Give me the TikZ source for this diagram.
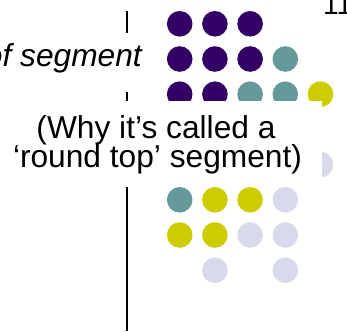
\documentclass[tikz,border=0pt]{standalone}
\usepackage{fontspec}
\setmainfont{Liberation Sans}
\definecolor{purp}{HTML}{330066}
\definecolor{tealc}{HTML}{669999}
\definecolor{yelc}{HTML}{CCCC00}
\definecolor{lavc}{HTML}{D9D9EC}
\tikzset{
  dot/.style={circle, inner sep=0pt, minimum size=25.6pt, draw=none},
  cover/.style={rectangle, fill=white, draw=none, inner sep=0pt, anchor=north west},
  bigtext/.style={anchor=base, inner sep=0pt, font=\fontsize{31.7}{31.7}\selectfont},
  vline/.style={line width=2pt, black},
}
\begin{document}
\begin{tikzpicture}[x=1pt, y=-1pt]
\useasboundingbox (0,0) rectangle (347,331);
% vertical line
\coordinate (ltop) at (127,11.5);
\coordinate (lbot) at (127,331);
\draw[vline] (ltop) -- (lbot);
% dots
\node[dot, fill=purp] (a1) at (179.7,23.8) {};
\node[dot, fill=purp] (a2) at (214.9,23.8) {};
\node[dot, fill=purp] (a3) at (250.1,23.8) {};
\node[dot, fill=purp] (b1) at (179.7,59.0) {};
\node[dot, fill=purp] (b2) at (214.9,59.0) {};
\node[dot, fill=purp] (b3) at (250.1,59.0) {};
\node[dot, fill=tealc] (b4) at (285.3,59.0) {};
\node[dot, fill=purp] (c1) at (179.7,94.2) {};
\node[dot, fill=purp] (c2) at (214.9,94.2) {};
\node[dot, fill=tealc] (c3) at (250.1,94.2) {};
\node[dot, fill=tealc] (c4) at (285.3,94.2) {};
\node[dot, fill=yelc] (c5) at (320.5,94.2) {};
\node[dot, fill=lavc] (e5) at (320.5,164.6) {};
\node[dot, fill=tealc] (f1) at (179.7,199.8) {};
\node[dot, fill=yelc] (f2) at (214.9,199.8) {};
\node[dot, fill=yelc] (f3) at (250.1,199.8) {};
\node[dot, fill=lavc] (f4) at (285.3,199.8) {};
\node[dot, fill=yelc] (g1) at (179.7,235.0) {};
\node[dot, fill=yelc] (g2) at (214.9,235.0) {};
\node[dot, fill=lavc] (g3) at (250.1,235.0) {};
\node[dot, fill=lavc] (g4) at (285.3,235.0) {};
\node[dot, fill=lavc] (h2) at (214.9,270.2) {};
\node[dot, fill=lavc] (h4) at (285.3,270.2) {};
% cover boxes
\node[cover, minimum width=150pt, minimum height=59pt] (boxa) at (0,33.3) {};
\node[cover, minimum width=321.3pt, minimum height=86pt] (boxb) at (0,101) {};
% texts
\node[bigtext, anchor=base east, font=\itshape\fontsize{31.7}{31.7}\selectfont] (seg) at (142,66.7) {of segment};
\node[bigtext] (t1) at (156,138.3) {(Why it’s called a};
\node[bigtext] (t2) at (157.5,167.5) {‘round top’ segment)};
\node[anchor=base west, inner sep=0pt, font=\fontsize{28}{28}\selectfont] (num) at (323,15) {11};
\end{tikzpicture}
\end{document}
